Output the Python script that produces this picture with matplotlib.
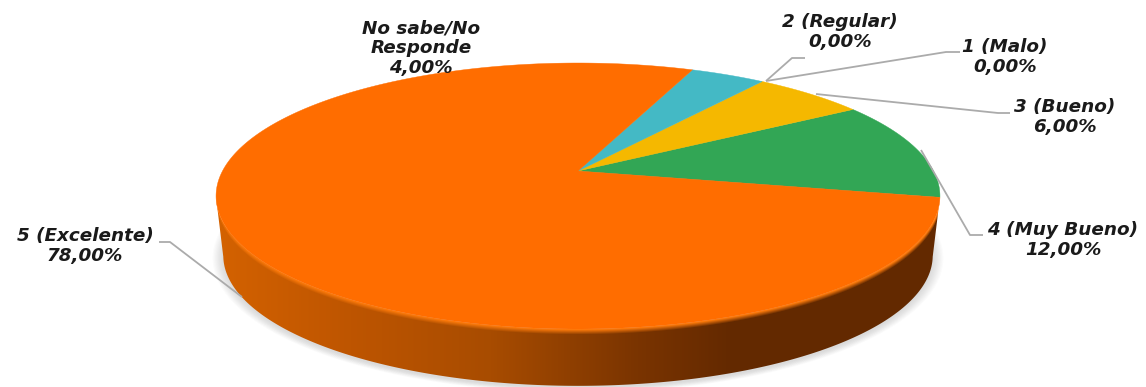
import numpy as np
import matplotlib
matplotlib.use("Agg")
import matplotlib.pyplot as plt
from matplotlib.patches import Polygon

# Survey results, listed counter-clockwise from the right edge of the disc
categories = ["4 (Muy Bueno)", "3 (Bueno)", "1 (Malo)", "2 (Regular)", "No sabe/No\nResponde", "5 (Excelente)"]
values = [12.0, 6.0, 0.0, 0.0, 4.0, 78.0]
colors = ["#32A655", "#F5B800", "#A5A5A5", "#7F7F7F", "#44B9C5", "#FF6D00"]

# Label anchors and leader lines, in figure pixels
label_pos = [(1063, 240), (1065, 117), (1005, 57), (840, 32), (421, 48), (85, 246)]
leaders = [
    [(921, 150), (970, 235), (983, 235)],
    [(816, 94), (998, 113), (1010, 113)],
    [(766, 81), (946, 52), (960, 52)],
    [(766, 81), (792, 58), (805, 58)],
    None,
    [(242, 297), (170, 242), (159, 242)],
]

W, H = 1146, 387
fig = plt.figure(figsize=(W / 100, H / 100), dpi=100)
ax = fig.add_axes([0, 0, 1, 1])
ax.set_xlim(0, W)
ax.set_ylim(H, 0)
ax.axis("off")

# Perspective projection of the unit disc onto the page
CX, CY, A, B, K = 578.0, 171.0, 355.5, 128.3, 0.188
START_DEG = -11.4
WALL_DROP, WALL_SCALE = 60.0, 0.98


def project(theta_deg, r=1.0, dy=0.0, scale=1.0):
    t = np.radians(theta_deg)
    u, v = r * np.cos(t), r * np.sin(t)
    w = 1 + K * v
    return np.column_stack((CX + scale * A * u / w, CY + dy - scale * B * v / w))


# Soft shadow under the disc
ring = np.linspace(0, 360, 361)
for grow in np.linspace(1.03, 1.0, 10):
    ax.add_patch(Polygon(project(ring, dy=WALL_DROP + 2, scale=WALL_SCALE * grow), closed=True,
                         fc="#505050", ec="none", alpha=0.018, zorder=1))

# Side wall: shaded left to right, with a lighter bevel below the rim
left_edge, right_edge = 180 - START_DEG, 360 + START_DEG
front = np.linspace(left_edge, right_edge, 300)
rim = project(front)
base = project(front, dy=WALL_DROP, scale=WALL_SCALE)
wall_poly = np.vstack((rim, base[::-1]))

xs = np.arange(200, 950)
ys = np.arange(180, 388)
stops_x = [215, 350, 490, 637, 734, 940]
stops_rgb = np.array([[0xD4, 0x62, 0x00], [0xBE, 0x55, 0x00], [0xA8, 0x4C, 0x00],
                      [0x7A, 0x34, 0x00], [0x63, 0x29, 0x00], [0x63, 0x29, 0x00]], float)
col = np.column_stack([np.interp(xs, stops_x, stops_rgb[:, i]) for i in range(3)])
rim_y = np.interp(xs, rim[:, 0], rim[:, 1])
depth = ys[:, None] - rim_y[None, :]
mix = np.clip(1 - depth / 5.0, 0, 1)[..., None]
bevel = np.array([0xFF, 0x7C, 0x0C], float)
shade = col[None, :, :] * (1 - mix) + bevel * mix
im = ax.imshow(shade / 255, extent=(xs[0], xs[-1] + 1, ys[-1] + 1, ys[0]),
               aspect="auto", interpolation="bilinear", zorder=2)
clip = Polygon(wall_poly, closed=True, transform=ax.transData, fc="none", ec="none")
ax.add_patch(clip)
im.set_clip_path(clip)
ax.set_xlim(0, W)
ax.set_ylim(H, 0)

# Top face: one projected wedge per non-empty category
edges = START_DEG + np.concatenate(([0], np.cumsum(values))) * 3.6
for val, c, t0, t1 in zip(values, colors, edges[:-1], edges[1:]):
    if val <= 0:
        continue
    arc = project(np.linspace(t0, t1, max(int(t1 - t0) * 2, 8)))
    apex = project(np.array([0.0]), r=0.0)
    ax.add_patch(Polygon(np.vstack((apex, arc)), closed=True, fc=c, ec=c, lw=0.3, zorder=3))

# Leader lines
for pts in leaders:
    if pts is not None:
        px, py = zip(*pts)
        ax.plot(px, py, color="#ABABAB", lw=1.3, zorder=4, solid_capstyle="butt")

# Category and percentage labels
for name, val, (x, y) in zip(categories, values, label_pos):
    pct = f"{val:.2f}%".replace(".", ",")
    ax.text(x, y, f"{name}\n{pct}", ha="center", va="center", ma="center",
            family="DejaVu Sans", fontsize=13.2, fontweight="bold", fontstyle="italic",
            color="#1A1A1A", linespacing=1.13, zorder=5)

fig.savefig("out.png", dpi=100, facecolor="white")
